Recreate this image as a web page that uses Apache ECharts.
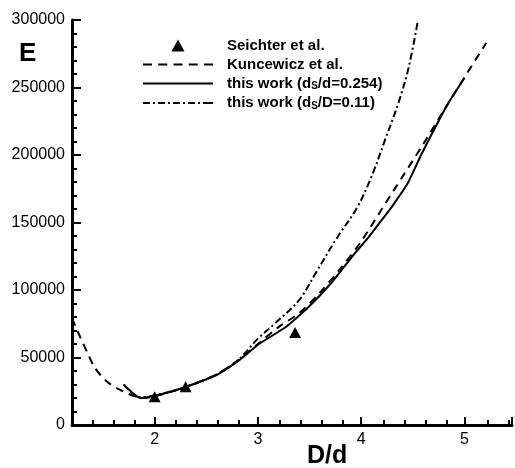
<!DOCTYPE html>
<html>
<head>
<meta charset="utf-8">
<script src="https://cdn.jsdelivr.net/npm/echarts@6/dist/echarts.min.js"></script>
<style>html,body{margin:0;padding:0;background:#fff;}#c{width:515px;height:468px;}</style>
</head>
<body>
<div id="c"></div>
<script>
// ---- data ----
const seriesNames = ['Seichter et al.', 'Kuncewicz et al.', 'this work (d_S/d=0.254)', 'this work (d_S/D=0.11)'];
const seichter = [[2.0, 21000], [2.30, 28300], [3.36, 68500]];
const kuncewicz = [[1.2, 79000], [1.28, 65000], [1.35, 53500], [1.42, 42500], [1.54, 32000], [1.68, 25500],
  [1.8, 21500], [1.9, 20000], [2.0, 21200], [2.2, 25500], [2.4, 31000], [2.6, 37500], [2.8, 47500],
  [3.0, 60000], [3.2, 72500], [3.4, 83000], [3.6, 98000], [3.8, 116000], [4.0, 136000], [4.2, 160000],
  [4.4, 184000], [4.6, 208000], [4.8, 233000], [5.0, 257500], [5.21, 283000]];
const workA = [[1.7, 30000], [1.86, 20000], [2.0, 21500], [2.27, 27400], [2.6, 37000], [2.82, 48000],
  [3.01, 60000], [3.27, 72600], [3.49, 87400], [3.71, 105200], [3.94, 127400], [4.07, 139000],
  [4.2, 152000], [4.3, 162000], [4.45, 179000], [4.58, 200000], [4.71, 219500], [4.84, 238000], [5.0, 257000]];
const workB = [[1.7, 30000], [1.86, 20500], [2.0, 22000], [2.3, 28000], [2.6, 37500], [2.8, 47500],
  [3.0, 64000], [3.17, 75600], [3.4, 92600], [3.56, 112600], [3.76, 138000], [3.96, 161000],
  [4.1, 184000], [4.23, 211000], [4.36, 238500], [4.46, 265000], [4.55, 300000]];
const xMin = 1.2, xMax = 5.46, yMin = 0, yMax = 300000, yStep = 50000, xStep = 1;

const FONT = 'Liberation Sans, Arial, sans-serif';
const chart = echarts.init(document.getElementById('c'), null, {renderer: 'canvas'});
const pxPerUnit = 104;
const gridLeft = 72, gridTop = 20, gridH = 405;

// legend key glyphs (line samples drawn as filled segment paths)
function segs(list) { return 'path://' + list.map(s => 'M' + s[0] + ',0H' + s[1] + 'V2H' + s[0] + 'Z').join(''); }
const iconTriangle = 'path://M6,0L12,11L0,11Z';
const iconDashed = segs([[0, 9], [15.25, 24.25], [30.5, 39.5], [45.75, 54.75], [61, 70]]);
const iconSolid = segs([[0, 70]]);
const iconDashDot = segs([[0, 7], [10, 12], [15, 22], [25, 27], [30, 37], [40, 42], [45, 52], [55, 57], [60, 70]]);

chart.setOption({
  backgroundColor: '#fff',
  animation: false,
  grid: [
    {left: gridLeft, top: gridTop, width: (xMax - xMin) * pxPerUnit, height: gridH},
    {left: gridLeft - (xMin - 1) * pxPerUnit, top: gridTop, width: (xMax - 1) * pxPerUnit, height: gridH}
  ],
  xAxis: [
    {type: 'value', gridIndex: 0, min: xMin, max: xMax, splitNumber: 4,
     axisLine: {show: true, lineStyle: {color: '#000', width: 3}},
     axisTick: {show: true, inside: true, length: 8, lineStyle: {color: '#000', width: 2}},
     minorTick: {show: false},
     splitLine: {show: false},
     axisLabel: {color: '#000', fontSize: 16, fontFamily: FONT, margin: 7,
       formatter: v => (Math.abs(v - Math.round(v)) < 1e-9 ? String(Math.round(v)) : '')}},
    {type: 'value', gridIndex: 1, min: 1, max: xMax, interval: xStep,
     axisLine: {show: false},
     axisTick: {show: false, inside: true, length: 5},
     minorTick: {show: true, splitNumber: 5, length: 5, lineStyle: {color: '#000', width: 2}},
     splitLine: {show: false}, axisLabel: {show: false}}
  ],
  yAxis: [
    {type: 'value', gridIndex: 0, min: yMin, max: yMax, interval: yStep,
     axisLine: {show: true, lineStyle: {color: '#000', width: 3}},
     axisTick: {show: true, inside: true, length: 9, lineStyle: {color: '#000', width: 2}},
     minorTick: {show: true, splitNumber: 5, length: 5, lineStyle: {color: '#000', width: 2}},
     splitLine: {show: false},
     axisLabel: {color: '#000', fontSize: 16, fontFamily: FONT, margin: 7, formatter: v => String(v)}},
    {type: 'value', gridIndex: 1, min: yMin, max: yMax, show: false, splitLine: {show: false}}
  ],
  legend: {
    left: 138, top: 33, orient: 'vertical', itemWidth: 70, itemHeight: 12, itemGap: 4,
    symbolKeepAspect: true,
    itemStyle: {opacity: 1},
    data: [
      {name: seriesNames[0], icon: iconTriangle},
      {name: seriesNames[1], icon: iconDashed},
      {name: seriesNames[2], icon: iconSolid},
      {name: seriesNames[3], icon: iconDashDot}
    ],
    textStyle: {color: '#000', fontSize: 15, fontWeight: 'bold', fontFamily: FONT, padding: [0, 0, 0, 9],
      rich: {s: {fontSize: 10, fontWeight: 'bold', fontFamily: FONT, color: '#000', verticalAlign: 'bottom', padding: [6, 0, 0, 0]}}},
    formatter: n => n.replace('d_S', 'd{s|S}'),
    selectedMode: false
  },
  graphic: [
    {type: 'text', left: 19, top: 41, style: {text: 'E', fill: '#000', font: '900 26px ' + FONT}},
    {type: 'text', left: 307, top: 444, style: {text: 'D/d', fill: '#000', font: '900 25px ' + FONT}}
  ],
  series: [
    {name: seriesNames[0], type: 'scatter', data: seichter, symbol: 'triangle', symbolSize: [12, 11],
     itemStyle: {color: '#000', opacity: 1}},
    {name: seriesNames[1], type: 'line', data: kuncewicz, symbol: 'none', smooth: 0.3,
     lineStyle: {color: '#000', width: 2, type: [8, 6]}, itemStyle: {color: '#000'}},
    {name: seriesNames[2], type: 'line', data: workA, symbol: 'none', smooth: 0.15,
     lineStyle: {color: '#000', width: 2, type: 'solid'}, itemStyle: {color: '#000'}},
    {name: seriesNames[3], type: 'line', data: workB, symbol: 'none', smooth: 0.35,
     lineStyle: {color: '#000', width: 2, type: [7, 3, 2, 3]}, itemStyle: {color: '#000'}}
  ]
});
</script>
</body>
</html>
